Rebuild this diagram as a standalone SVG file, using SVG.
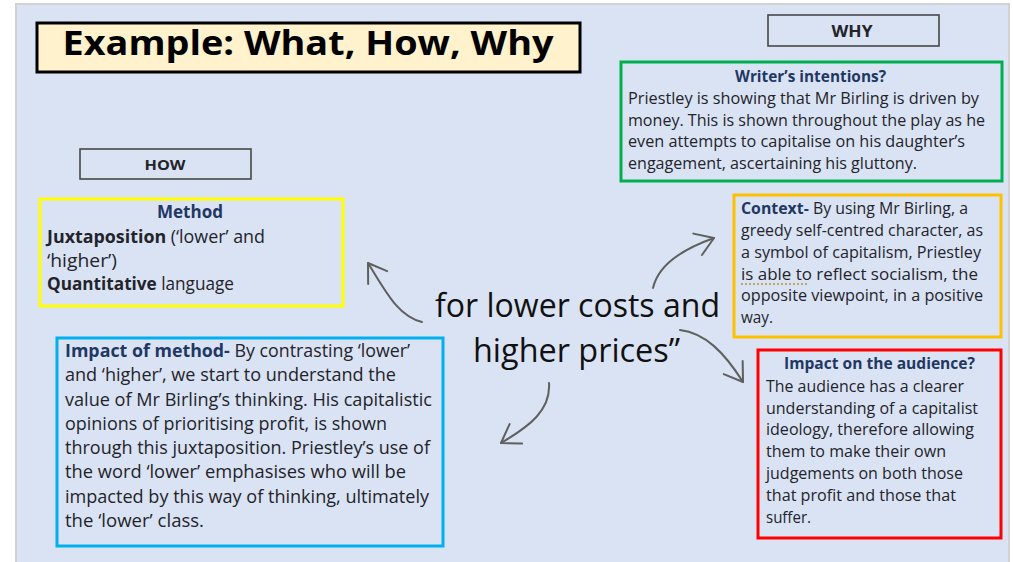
<svg xmlns="http://www.w3.org/2000/svg" width="1013" height="562" viewBox="0 0 1013 562">
  <style>
    .t { font-family: "Open Sans", "Liberation Sans", sans-serif; fill: #23232b; }
    .b { font-weight: bold; }
    .hd { font-weight: bold; fill: #1f3864; }
    .s16 { font-size: 16px; }
    .s17 { font-size: 17.5px; }
    .tag { fill: none; stroke: #474747; stroke-width: 1.6; }
    .card { fill: none; stroke-width: 3; }
    .link { fill: none; stroke: #5f5f5f; stroke-width: 2; stroke-linecap: round; marker-end: url(#chev); }
  </style>
  <defs>
    <marker id="chev" markerUnits="userSpaceOnUse" viewBox="-22 -15 24 30" refX="0" refY="0" markerWidth="24" markerHeight="30" orient="auto">
      <path d="M-18,-11 L0,0 L-17,12" fill="none" stroke="#5f5f5f" stroke-width="2" stroke-linecap="round" stroke-linejoin="round"/>
    </marker>
  </defs>

  <!-- page -->
  <rect x="0" y="0" width="1013" height="562" fill="#ffffff"/>
  <rect x="16" y="4" width="993" height="562" fill="#dae3f3" stroke="#d2d2d2" stroke-width="2"/>

  <!-- title -->
  <g id="title">
    <rect x="37" y="23" width="543" height="49" fill="#fff2cc" stroke="#000" stroke-width="3"/>
    <text class="t b" x="308" y="55" font-size="34" text-anchor="middle" textLength="491" lengthAdjust="spacingAndGlyphs" style="fill:#000">Example: What, How, Why</text>
  </g>

  <!-- section labels -->
  <g id="how-label">
    <rect class="tag" x="80" y="149" width="171" height="30"/>
    <text class="t b" x="165" y="169.5" font-size="15" text-anchor="middle" textLength="41" lengthAdjust="spacingAndGlyphs">HOW</text>
  </g>
  <g id="why-label">
    <rect class="tag" x="768" y="15" width="171" height="31"/>
    <text class="t b" x="852" y="36.5" font-size="16.5" text-anchor="middle" textLength="41" lengthAdjust="spacingAndGlyphs">WHY</text>
  </g>

  <!-- connectors from the central quotation -->
  <g id="connectors">
    <path class="link" d="M422,322 C398,316 386,292 368,263"/>
    <path class="link" d="M653,288 C658,266 680,250 714,238"/>
    <path class="link" d="M680,330 C705,333 724,352 743,382"/>
    <path class="link" d="M549,383 C551,410 530,426 501,443"/>
  </g>

  <!-- central quotation -->
  <g id="quote">
    <text class="t" x="577.5" y="317" font-size="32" text-anchor="middle" textLength="285" lengthAdjust="spacingAndGlyphs" style="fill:#111">for lower costs and</text>
    <text class="t" x="576.5" y="362" font-size="32" text-anchor="middle" textLength="207" lengthAdjust="spacingAndGlyphs" style="fill:#111">higher prices”</text>
  </g>

  <!-- writer's intentions -->
  <g id="intentions">
    <rect class="card" x="621" y="62" width="381" height="119" stroke="#00b050"/>
    <text class="t hd s16" x="810.5" y="82" text-anchor="middle" textLength="151" lengthAdjust="spacingAndGlyphs">Writer’s intentions?</text>
    <text class="t s16" x="628" y="104" textLength="351" lengthAdjust="spacingAndGlyphs">Priestley is showing that Mr Birling is driven by</text>
    <text class="t s16" x="628" y="125.5" textLength="357" lengthAdjust="spacingAndGlyphs">money. This is shown throughout the play as he</text>
    <text class="t s16" x="628" y="147" textLength="337" lengthAdjust="spacingAndGlyphs">even attempts to capitalise on his daughter’s</text>
    <text class="t s16" x="628" y="168.5" textLength="289" lengthAdjust="spacingAndGlyphs">engagement, ascertaining his gluttony.</text>
  </g>

  <!-- context -->
  <g id="context">
    <rect class="card" x="734" y="195" width="267" height="142" stroke="#ffc000"/>
    <text class="t s16" x="741" y="214" textLength="227" lengthAdjust="spacingAndGlyphs"><tspan class="hd">Context-</tspan> By using Mr Birling, a</text>
    <text class="t s16" x="741" y="236" textLength="242" lengthAdjust="spacingAndGlyphs">greedy self-centred character, as</text>
    <text class="t s16" x="741" y="258" textLength="240" lengthAdjust="spacingAndGlyphs">a symbol of capitalism, Priestley</text>
    <text class="t s16" x="741" y="279.5" textLength="237" lengthAdjust="spacingAndGlyphs">is able to reflect socialism, the</text>
    <line x1="741" y1="284" x2="807" y2="284" stroke="#b8913a" stroke-width="1.3" stroke-dasharray="2 2"/>
    <text class="t s16" x="741" y="301" textLength="242" lengthAdjust="spacingAndGlyphs">opposite viewpoint, in a positive</text>
    <text class="t s16" x="741" y="322.5" textLength="32" lengthAdjust="spacingAndGlyphs">way.</text>
  </g>

  <!-- impact on the audience -->
  <g id="audience">
    <rect class="card" x="758" y="350" width="243" height="188" stroke="#ff0000"/>
    <text class="t hd s16" x="879.5" y="369" text-anchor="middle" textLength="191" lengthAdjust="spacingAndGlyphs">Impact on the audience?</text>
    <text class="t s16" x="766" y="391.5" textLength="198" lengthAdjust="spacingAndGlyphs">The audience has a clearer</text>
    <text class="t s16" x="766" y="413.5" textLength="212" lengthAdjust="spacingAndGlyphs">understanding of a capitalist</text>
    <text class="t s16" x="766" y="435" textLength="208" lengthAdjust="spacingAndGlyphs">ideology, therefore allowing</text>
    <text class="t s16" x="766" y="457" textLength="180" lengthAdjust="spacingAndGlyphs">them to make their own</text>
    <text class="t s16" x="766" y="479" textLength="197" lengthAdjust="spacingAndGlyphs">judgements on both those</text>
    <text class="t s16" x="766" y="501" textLength="190" lengthAdjust="spacingAndGlyphs">that profit and those that</text>
    <text class="t s16" x="766" y="523" textLength="45" lengthAdjust="spacingAndGlyphs">suffer.</text>
  </g>

  <!-- method -->
  <g id="method">
    <rect class="card" x="40" y="199" width="303" height="107" stroke="#ffff00"/>
    <text class="t hd s17" x="190" y="218" text-anchor="middle" textLength="66" lengthAdjust="spacingAndGlyphs">Method</text>
    <text class="t s17" x="47" y="243" textLength="218" lengthAdjust="spacingAndGlyphs"><tspan class="b">Juxtaposition</tspan> (‘lower’ and</text>
    <text class="t s17" x="47" y="266.5" textLength="70" lengthAdjust="spacingAndGlyphs">‘higher’)</text>
    <text class="t s17" x="47" y="290" textLength="187" lengthAdjust="spacingAndGlyphs"><tspan class="b">Quantitative</tspan> language</text>
  </g>

  <!-- impact of method -->
  <g id="impact-method">
    <rect class="card" x="57" y="338" width="386" height="208" stroke="#00b0f0"/>
    <text class="t s17" x="65" y="357" textLength="345" lengthAdjust="spacingAndGlyphs"><tspan class="hd">Impact of method-</tspan> By contrasting ‘lower’</text>
    <text class="t s17" x="65" y="381" textLength="331" lengthAdjust="spacingAndGlyphs">and ‘higher’, we start to understand the</text>
    <text class="t s17" x="65" y="405.5" textLength="367" lengthAdjust="spacingAndGlyphs">value of Mr Birling’s thinking. His capitalistic</text>
    <text class="t s17" x="65" y="429.5" textLength="322" lengthAdjust="spacingAndGlyphs">opinions of prioritising profit, is shown</text>
    <text class="t s17" x="65" y="454" textLength="365" lengthAdjust="spacingAndGlyphs">through this juxtaposition. Priestley’s use of</text>
    <text class="t s17" x="65" y="478" textLength="341" lengthAdjust="spacingAndGlyphs">the word ‘lower’ emphasises who will be</text>
    <text class="t s17" x="65" y="502.5" textLength="364" lengthAdjust="spacingAndGlyphs">impacted by this way of thinking, ultimately</text>
    <text class="t s17" x="65" y="527" textLength="139" lengthAdjust="spacingAndGlyphs">the ‘lower’ class.</text>
  </g>
</svg>
